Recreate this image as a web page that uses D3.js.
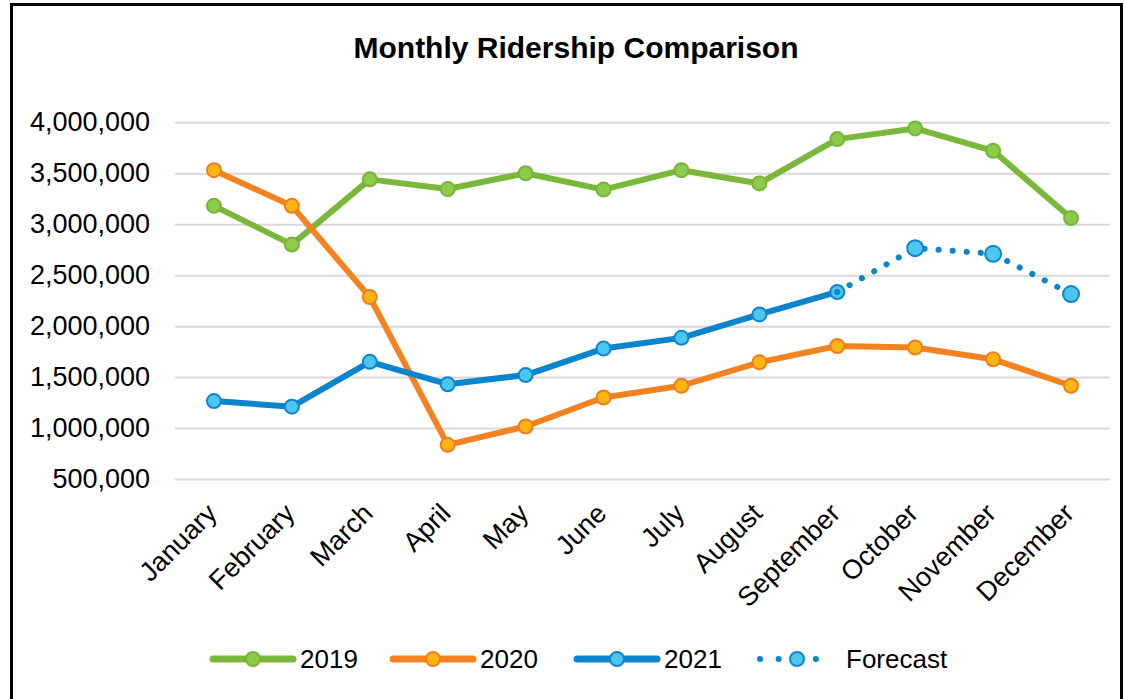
<!DOCTYPE html>
<html>
<head>
<meta charset="utf-8">
<script src="https://cdn.jsdelivr.net/npm/d3@7"></script>
<style>
  body { margin: 0; background: #fff; }
  svg { font-family: "Liberation Sans", Arial, sans-serif; }
</style>
</head>
<body>
<script>
const months = ["January", "February", "March", "April", "May", "June",
    "July", "August", "September", "October", "November", "December"];
const ridership2019 = [3180000, 2800000, 3440000, 3345000, 3500000, 3340000,
    3530000, 3400000, 3835000, 3940000, 3720000, 3060000];
const ridership2020 = [3530000, 3180000, 2285000, 835000, 1015000, 1300000,
    1415000, 1645000, 1805000, 1790000, 1675000, 1415000];
const ridership2021 = [1265000, 1210000, 1650000, 1430000, 1520000, 1780000,
    1885000, 2115000, 2335000, null, null, null];
const forecast = [null, null, null, null, null, null,
    null, null, 2335000, 2765000, 2710000, 2315000];
const yTicks = [500000, 1000000, 1500000, 2000000, 2500000, 3000000, 3500000, 4000000];

const width = 1126, height = 699;
const plot = { left: 175, right: 1110, top: 122.3, bottom: 479 };

const series = [
    { name: "2019", values: ridership2019, line: "#7ab83c", fill: "#8dcb4a", stroke: "#78b43a", dotted: false },
    { name: "2020", values: ridership2020, line: "#f58220", fill: "#fdb515", stroke: "#f07e1e", dotted: false },
    { name: "2021", values: ridership2021, line: "#0a85cd", fill: "#4cc6ef", stroke: "#0e86ce", dotted: false },
    { name: "Forecast", values: forecast, line: "#0a85cd", fill: "#4cc6ef", stroke: "#0e86ce", dotted: true }
];

const xScale = d3.scalePoint().domain(months).range([plot.left, plot.right]).padding(0.5);
const yScale = d3.scaleLinear().domain([500000, 4000000]).range([plot.bottom, plot.top]);

const svg = d3.select("body").append("svg")
    .attr("width", width)
    .attr("height", height);

svg.append("rect")
    .attr("x", 11.5).attr("y", 4.5)
    .attr("width", 1110).attr("height", 720)
    .attr("fill", "none")
    .attr("stroke", "#000")
    .attr("stroke-width", 3);

svg.append("text")
    .attr("x", 576)
    .attr("y", 58)
    .attr("text-anchor", "middle")
    .style("font-size", "30px")
    .style("font-weight", "bold")
    .text("Monthly Ridership Comparison");

const yAxis = d3.axisLeft(yScale)
    .tickValues(yTicks)
    .tickFormat(d3.format(","))
    .tickSize(-(plot.right - plot.left))
    .tickPadding(25);

const yG = svg.append("g")
    .attr("transform", `translate(${plot.left},0)`)
    .call(yAxis);
yG.select(".domain").remove();
yG.selectAll(".tick line").attr("stroke", "#d9d9d9").attr("stroke-width", 2);
yG.selectAll(".tick text")
    .attr("fill", "#000")
    .style("font-size", "27px")
    .style("font-family", "Liberation Sans, Arial, sans-serif");

const xAxis = d3.axisBottom(xScale).tickSize(0);
const xG = svg.append("g")
    .attr("transform", `translate(0,${plot.bottom})`)
    .call(xAxis);
xG.select(".domain").remove();
xG.selectAll(".tick text")
    .attr("fill", "#000")
    .attr("text-anchor", "end")
    .attr("dy", null)
    .attr("y", 0)
    .attr("transform", "translate(4,36) rotate(-45)")
    .style("font-size", "27px")
    .style("font-family", "Liberation Sans, Arial, sans-serif");

const line = d3.line()
    .defined(d => d != null)
    .x((d, i) => xScale(months[i]))
    .y(d => yScale(d));

series.forEach(s => {
    svg.append("path")
        .datum(s.values)
        .attr("fill", "none")
        .attr("stroke", s.line)
        .attr("stroke-width", 6)
        .attr("stroke-linejoin", "round")
        .attr("stroke-linecap", "round")
        .attr("stroke-dasharray", s.dotted ? "0.1 14" : null)
        .attr("d", line);

    const pts = s.values
        .map((v, i) => ({ v, m: months[i] }))
        .filter((d, i) => d.v != null && !(s.dotted && i === 8));

    svg.append("g").selectAll("circle")
        .data(pts)
        .join("circle")
        .attr("cx", d => xScale(d.m))
        .attr("cy", d => yScale(d.v))
        .attr("r", s.dotted ? 8 : 7)
        .attr("fill", s.fill)
        .attr("stroke", s.stroke)
        .attr("stroke-width", 2);
});

// legend
const legendX = [213, 393, 577, 760];
const legend = svg.append("g").attr("transform", "translate(0,659)");
series.forEach((s, i) => {
    const g = legend.append("g").attr("transform", `translate(${legendX[i]},0)`);
    g.append("line")
        .attr("x1", 0).attr("x2", s.dotted ? 74 : 80)
        .attr("stroke", s.line)
        .attr("stroke-width", s.dotted ? 6 : 7)
        .attr("stroke-linecap", "round")
        .attr("stroke-dasharray", s.dotted ? "0.1 18.5" : null);
    g.append("circle")
        .attr("cx", s.dotted ? 37 : 40)
        .attr("r", 7)
        .attr("fill", s.fill)
        .attr("stroke", s.stroke)
        .attr("stroke-width", 2);
    g.append("text")
        .attr("x", s.dotted ? 86 : 87)
        .attr("dy", "0.35em")
        .style("font-size", "26px")
        .text(s.name);
});
</script>
</body>
</html>
